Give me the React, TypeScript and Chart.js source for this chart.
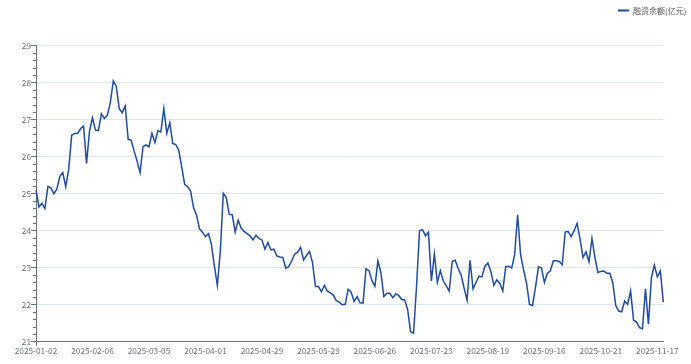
import React, { useEffect, useRef } from "react";
import { Chart, registerables } from "chart.js";

Chart.register(...registerables);

// ---- data ----
const SERIES_NAME = "融资余额(亿元)";
const START_DATE = "2025-01-02";
// exchange holidays (weekdays without trading)
const HOLIDAYS = [
  "2025-01-01", "2025-01-28", "2025-01-29", "2025-01-30", "2025-01-31", "2025-02-03", "2025-02-04",
  "2025-04-04", "2025-05-01", "2025-05-02", "2025-05-05", "2025-06-02",
  "2025-10-01", "2025-10-02", "2025-10-03", "2025-10-06", "2025-10-07", "2025-10-08",
];
// weekday absent from the source data
const MISSING_DAYS = ["2025-09-01"];

const VALUES_Q1 = [
  25.10, 24.64, 24.74, 24.60, 25.20, 25.16, 25.00, 25.12, 25.46, 25.57,
  25.19, 25.66, 26.58, 26.63, 26.63, 26.76, 26.83, 25.82, 26.70, 27.05,
  26.72, 26.71, 27.16, 27.03, 27.12, 27.46, 28.05, 27.90, 27.30, 27.19,
  27.37, 26.47, 26.45, 26.15, 25.88, 25.57, 26.27, 26.32, 26.27, 26.63,
  26.38, 26.70, 26.67, 27.30, 26.63, 26.92, 26.36, 26.33, 26.18, 25.73,
  25.25, 25.19, 25.07, 24.62, 24.42, 24.05, 23.96,
];
const VALUES_Q2 = [
  23.84, 23.92, 23.63, 23.05, 22.52, 23.45, 25.01, 24.89, 24.44, 24.43,
  23.96, 24.28, 24.07, 23.98, 23.92, 23.86, 23.75, 23.88, 23.79, 23.75,
  23.50, 23.68, 23.48, 23.50, 23.32, 23.29, 23.28, 22.99, 23.03, 23.18,
  23.37, 23.42, 23.55, 23.21, 23.33, 23.44, 23.14, 22.49, 22.49, 22.35,
  22.52, 22.37, 22.32, 22.26, 22.11, 22.07, 22.00, 22.01, 22.42, 22.34,
  22.09, 22.22, 22.05, 22.04, 22.97, 22.92, 22.65, 22.50, 23.18, 22.87,
];
const VALUES_Q3 = [
  22.22, 22.31, 22.31, 22.19, 22.29, 22.25, 22.14, 22.13, 21.87, 21.27,
  21.23, 22.50, 24.00, 24.03, 23.86, 23.96, 22.64, 23.37, 22.60, 22.92,
  22.64, 22.51, 22.37, 23.17, 23.20, 22.98, 22.80, 22.45, 22.12, 23.20,
  22.43, 22.60, 22.77, 22.75, 23.04, 23.13, 22.90, 22.52, 22.67, 22.58,
  22.37, 23.03, 23.04, 22.99, 23.35, 24.43, 23.35, 22.94, 22.58, 22.01,
  21.98, 22.46, 23.02, 23.00, 22.60, 22.85, 22.91, 23.19, 23.19, 23.17,
  23.08, 23.97, 23.98, 23.84, 24.00,
];
const VALUES_Q4 = [
  24.20, 23.77, 23.28, 23.43, 23.16, 23.79, 23.28, 22.87, 22.90, 22.91,
  22.85, 22.85, 22.60, 21.98, 21.83, 21.81, 22.10, 22.01, 22.37, 21.58,
  21.53, 21.38, 21.35, 22.43, 21.47, 22.73, 23.07, 22.75, 22.91, 22.07,
];
const VALUES = [...VALUES_Q1, ...VALUES_Q2, ...VALUES_Q3, ...VALUES_Q4];

const Y_MIN = 21;
const Y_MAX = 29;
const Y_STEP = 1;
const Y_MINOR_STEP = 0.2;
const X_LABEL_EVERY = 19;

function tradingDays(start: string, count: number, skip: string[]): string[] {
  const out: string[] = [];
  const d = new Date(start + "T00:00:00Z");
  while (out.length < count) {
    const dow = d.getUTCDay();
    const s = d.toISOString().slice(0, 10);
    if (dow !== 0 && dow !== 6 && !skip.includes(s)) out.push(s);
    d.setUTCDate(d.getUTCDate() + 1);
  }
  return out;
}
const CATEGORIES = tradingDays(START_DATE, VALUES.length, [...HOLIDAYS, ...MISSING_DAYS]);

// ---- style ----
const LINE_COLOR = "#1f4ba5";
const AXIS_COLOR = "#6e7079";
const GRID_COLOR = "#e0e6f1";
const FONT = "'Noto Sans CJK SC', 'Noto Sans', sans-serif";

const minorTicks = {
  id: "minorTicks",
  afterDraw(chart: any) {
    const y = chart.scales.y;
    const ctx = chart.ctx;
    const left = chart.chartArea.left;
    ctx.save();
    ctx.strokeStyle = AXIS_COLOR;
    ctx.lineWidth = 1;
    const n = Math.round((Y_MAX - Y_MIN) / Y_MINOR_STEP);
    for (let k = 0; k <= n; k++) {
      if (k % Math.round(Y_STEP / Y_MINOR_STEP) === 0) continue;
      const v = Y_MIN + k * Y_MINOR_STEP;
      const py = Math.round(y.getPixelForValue(v)) + 0.5;
      ctx.beginPath();
      ctx.moveTo(left - 3, py);
      ctx.lineTo(left, py);
      ctx.stroke();
    }
    ctx.restore();
  },
};

const legendPlugin = {
  id: "customLegend",
  afterDraw(chart: any) {
    const ctx = chart.ctx;
    ctx.save();
    ctx.strokeStyle = LINE_COLOR;
    ctx.lineWidth = 2;
    ctx.beginPath();
    ctx.moveTo(618, 10.5);
    ctx.lineTo(629, 10.5);
    ctx.stroke();
    ctx.fillStyle = "#555";
    ctx.font = `8px ${FONT}`;
    ctx.textBaseline = "middle";
    ctx.textAlign = "left";
    ctx.fillText(SERIES_NAME, 633, 11);
    ctx.restore();
  },
};

export default function App() {
  const ref = useRef<HTMLCanvasElement>(null);
  useEffect(() => {
    if (!ref.current) return;
    const chart = new Chart(ref.current, {
      type: "line",
      data: {
        labels: CATEGORIES,
        datasets: [
          {
            label: SERIES_NAME,
            data: VALUES,
            borderColor: LINE_COLOR,
            backgroundColor: LINE_COLOR,
            borderWidth: 1.5,
            pointRadius: 0,
            tension: 0,
            fill: false,
          },
        ],
      },
      options: {
        animation: false,
        responsive: false,
        maintainAspectRatio: false,
        layout: { padding: { top: 45.7, right: 27.7, left: 0, bottom: 0 } },
        plugins: { legend: { display: false }, tooltip: { enabled: false } },
        scales: {
          x: {
            type: "category",
            offset: false,
            border: { display: true, color: AXIS_COLOR, width: 1 },
            grid: {
              display: true,
              drawOnChartArea: false,
              drawTicks: true,
              tickLength: 4,
              tickColor: (c: any) => (c.index % X_LABEL_EVERY === 0 ? AXIS_COLOR : "rgba(0,0,0,0)"),
            },
            ticks: {
              autoSkip: false,
              maxRotation: 0,
              minRotation: 0,
              padding: 0,
              color: AXIS_COLOR,
              font: { size: 8.3, family: FONT },
              callback: (_v: any, i: number) => (i % X_LABEL_EVERY === 0 ? CATEGORIES[i] : null),
            },
            afterFit: (s: any) => {
              s.height = 22.3;
            },
          },
          y: {
            min: Y_MIN,
            max: Y_MAX,
            border: { display: true, color: AXIS_COLOR, width: 1 },
            grid: {
              color: (c: any) => (c.tick && c.tick.value === Y_MIN ? "rgba(0,0,0,0)" : GRID_COLOR),
              tickColor: AXIS_COLOR,
              drawTicks: true,
              tickLength: 5,
            },
            ticks: {
              stepSize: Y_STEP,
              padding: 0,
              color: AXIS_COLOR,
              font: { size: 8.3, family: FONT },
            },
            afterFit: (s: any) => {
              s.width = 36;
            },
          },
        },
      },
      plugins: [minorTicks, legendPlugin],
    });
    return () => chart.destroy();
  }, []);
  return (
    <div style={{ position: "absolute", left: 0, top: 0, width: 691, height: 364, background: "#fff" }}>
      <canvas ref={ref} width={691} height={364} style={{ display: "block" }} />
    </div>
  );
}
